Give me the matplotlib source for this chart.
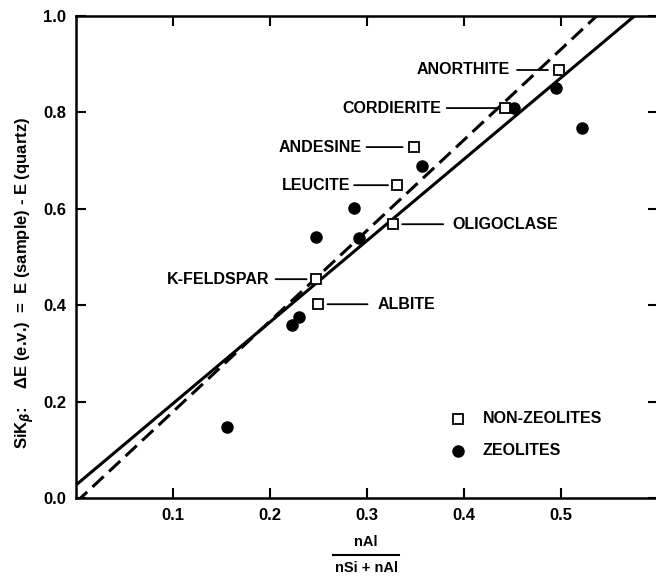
import matplotlib.pyplot as plt
from matplotlib.lines import Line2D

# non-zeolite minerals (open squares)
minerals = ["ANORTHITE", "CORDIERITE", "ANDESINE", "LEUCITE",
            "OLIGOCLASE", "K-FELDSPAR", "ALBITE"]
mineral_x = [0.498, 0.442, 0.348, 0.331, 0.327, 0.247, 0.249]
mineral_y = [0.888, 0.809, 0.728, 0.649, 0.568, 0.454, 0.402]

# zeolites (filled dots)
zeolite_x = [0.495, 0.452, 0.522, 0.357, 0.287, 0.247, 0.292, 0.230, 0.223, 0.156]
zeolite_y = [0.851, 0.810, 0.768, 0.689, 0.602, 0.541, 0.539, 0.375, 0.359, 0.148]

# fitted lines: y = slope * x + intercept
solid_fit = (1.69, 0.027)
dashed_fit = (1.88, -0.009)

plt.rcParams['font.family'] = ['Liberation Sans', 'DejaVu Sans']
plt.rcParams['font.weight'] = 'bold'

fig = plt.figure(figsize=(6.56, 5.76), dpi=100)
ax = fig.add_axes([76 / 656, 78 / 576, 582 / 656, 482 / 576])

xs = [0.0, 0.6]
ax.plot(xs, [solid_fit[0] * x + solid_fit[1] for x in xs], color='black', lw=2.2,
        solid_capstyle='butt')
ax.plot(xs, [dashed_fit[0] * x + dashed_fit[1] for x in xs], color='black', lw=2.2,
        dashes=(5.0, 2.4))

ax.plot(zeolite_x, zeolite_y, 'o', color='black', ms=8, zorder=4)
ax.plot(mineral_x, mineral_y, 's', mfc='white', mec='black', mew=1.3, ms=7, zorder=5)

# label offsets in pixels: (leader near end, leader far end, text position, alignment)
label_layout = {
    "ANORTHITE": (-11, -42, -49, 'right'),
    "CORDIERITE": (-7, -58, -63, 'right'),
    "ANDESINE": (-11, -47, -52, 'right'),
    "LEUCITE": (-9, -43, -47, 'right'),
    "OLIGOCLASE": (9, 50, 59, 'left'),
    "K-FELDSPAR": (-9, -40, -46, 'right'),
    "ALBITE": (10, 50, 60, 'left'),
}
px = 0.72  # points per pixel at 100 dpi
for name, x, y in zip(minerals, mineral_x, mineral_y):
    near, far, t, ha = label_layout[name]
    ax.annotate("", xy=(x, y), xytext=(far * px, 0), textcoords='offset points',
                arrowprops=dict(arrowstyle='-', lw=1.3, color='black',
                                shrinkA=0, shrinkB=abs(near) * px))
    ax.annotate(name, xy=(x, y), xytext=(t * px, 0), textcoords='offset points',
                ha=ha, va='center', fontsize=11.5, fontweight='bold')

# legend
ax.plot([0.394], [0.164], 's', mfc='white', mec='black', mew=1.3, ms=7)
ax.text(0.419, 0.164, "NON-ZEOLITES", ha='left', va='center', fontsize=11.5,
        fontweight='bold')
ax.plot([0.394], [0.098], 'o', color='black', ms=8)
ax.text(0.419, 0.098, "ZEOLITES", ha='left', va='center', fontsize=11.5,
        fontweight='bold')

ax.set_xlim(0, 0.6)
ax.set_ylim(0, 1.0)
ax.set_xticks([0.1, 0.2, 0.3, 0.4, 0.5])
ax.set_xticklabels(["0.1", "0.2", "0.3", "0.4", "0.5"])
ax.set_yticks([0.0, 0.2, 0.4, 0.6, 0.8, 1.0])
ax.set_yticklabels(["0.0", "0.2", "0.4", "0.6", "0.8", "1.0"])
ax.tick_params(direction='in', length=7, width=1.5, top=True, right=True,
               labelsize=12, pad=7)
for lab in ax.get_xticklabels() + ax.get_yticklabels():
    lab.set_fontweight('bold')
for s in ax.spines.values():
    s.set_linewidth(1.8)

# y label
fig.text(25 / 656, 1 - 283 / 576,
         r"SiK$_\beta$:    ΔE (e.v.)  =  E (sample) - E (quartz)",
         rotation=90, ha='center', va='center', fontsize=12, fontweight='bold')

# x label drawn as a fraction
cx = 366 / 656
fig.text(cx, 1 - 542 / 576, "nAl", ha='center', va='center', fontsize=10.5,
         fontweight='bold')
fig.add_artist(Line2D([333 / 656, 399 / 656], [1 - 555 / 576, 1 - 555 / 576],
                      color='black', lw=1.5, transform=fig.transFigure))
fig.text(cx, 1 - 568 / 576, "nSi + nAl", ha='center', va='center', fontsize=10.5,
         fontweight='bold')

fig.savefig("out.png", dpi=100)
